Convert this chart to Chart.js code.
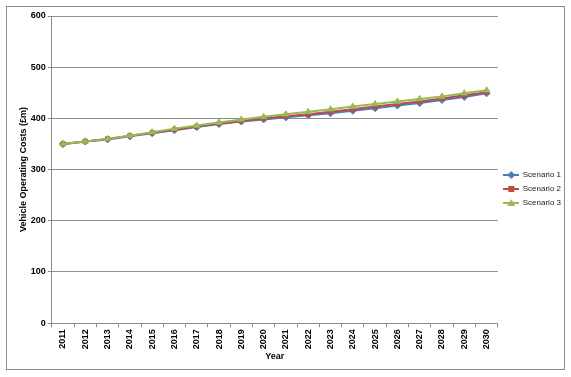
<!DOCTYPE html>
<html>
<head>
<meta charset="utf-8">
<script src="https://cdn.jsdelivr.net/npm/chart.js@4"></script>
<style>
  html, body { margin: 0; padding: 0; background: #fff; }
</style>
</head>
<body>
<canvas id="vocChart" width="571" height="377"></canvas>
<script>
// Years on the x axis
const years = ["2011", "2012", "2013", "2014", "2015", "2016", "2017", "2018", "2019", "2020",
               "2021", "2022", "2023", "2024", "2025", "2026", "2027", "2028", "2029", "2030"];

// Vehicle operating costs (£m)
const scenario1 = [350, 355, 359, 365, 371, 377, 383, 389, 394, 398, 402, 406, 410, 415, 420, 425, 430, 436, 442, 449];
const scenario2 = [350, 355, 360, 366, 372, 378, 384, 390, 395, 400, 404, 408, 413, 418, 423, 428, 433, 439, 445, 451];
const scenario3 = [350, 355, 360, 366, 373, 380, 386, 392, 398, 403, 408, 413, 418, 423, 428, 433, 438, 443, 449, 455];

const yTicks = [0, 100, 200, 300, 400, 500, 600];

const FONT = "'Liberation Sans', Arial, sans-serif";

// little legend image: line with the marker in the middle
function legendIcon(color, style) {
  const c = document.createElement('canvas');
  c.width = 16; c.height = 8;
  const g = c.getContext('2d');
  g.strokeStyle = color;
  g.lineWidth = 2;
  g.beginPath(); g.moveTo(0, 4); g.lineTo(16, 4); g.stroke();
  g.fillStyle = color;
  g.beginPath();
  if (style === 'rect') {
    g.rect(5, 1, 6, 6);
  } else if (style === 'rectRot') {
    g.moveTo(8, 0); g.lineTo(12, 4); g.lineTo(8, 8); g.lineTo(4, 4); g.closePath();
  } else {
    g.moveTo(8, 0); g.lineTo(12, 7); g.lineTo(4, 7); g.closePath();
  }
  g.fill();
  return c;
}

const series = [
  { label: 'Scenario 1', data: scenario1, color: '#4A7EBB', marker: 'rectRot', order: 3 },
  { label: 'Scenario 2', data: scenario2, color: '#BE4B48', marker: 'rect', order: 2 },
  { label: 'Scenario 3', data: scenario3, color: '#98B954', marker: 'triangle', order: 1 }
];

// outer frame round the whole chart
const framePlugin = {
  id: 'frame',
  beforeDraw(chart) {
    const ctx = chart.ctx;
    ctx.save();
    ctx.fillStyle = '#fff';
    ctx.fillRect(0, 0, chart.width, chart.height);
    ctx.strokeStyle = '#8c8c8c';
    ctx.lineWidth = 1;
    ctx.strokeRect(6.5, 6.5, 558, 363);
    ctx.restore();
  }
};

const ctx = document.getElementById('vocChart').getContext('2d');

const vocChart = new Chart(ctx, {
  type: 'line',
  data: {
    labels: years,
    datasets: series.map(s => ({
      label: s.label,
      data: s.data,
      borderColor: s.color,
      backgroundColor: s.color,
      borderWidth: 2,
      pointStyle: s.marker,
      pointRadius: s.marker === 'rect' ? 3 : 3.5,
      pointBackgroundColor: s.color,
      pointBorderColor: s.color,
      pointBorderWidth: 1,
      fill: false,
      tension: 0,
      order: s.order
    }))
  },
  options: {
    responsive: false,
    maintainAspectRatio: false,
    animation: false,
    layout: { padding: { left: 12, right: 0, top: 16, bottom: 15 } },
    plugins: {
      tooltip: { enabled: false },
      legend: {
        position: 'right',
        align: 'center',
        labels: {
          usePointStyle: true,
          pointStyleWidth: 15,
          boxHeight: 8,
          padding: 6,
          color: '#1a1a1a',
          font: { family: FONT, size: 8 },
          generateLabels(chart) {
            return series.map((s, i) => ({
              text: s.label,
              pointStyle: legendIcon(s.color, s.marker),
              fillStyle: s.color,
              strokeStyle: s.color,
              lineWidth: 0,
              hidden: false,
              datasetIndex: i,
              fontColor: '#1a1a1a'
            }));
          }
        }
      }
    },
    scales: {
      x: {
        offset: true,
        grid: {
          offset: true,
          drawOnChartArea: false,
          color: '#8c8c8c',
          tickLength: 4
        },
        border: { color: '#8c8c8c' },
        ticks: {
          minRotation: 90,
          maxRotation: 90,
          autoSkip: false,
          padding: 2,
          color: '#000',
          font: { family: FONT, size: 9, weight: 'bold' }
        },
        title: {
          display: true,
          text: 'Year',
          color: '#000',
          padding: { top: 0, bottom: 0 },
          font: { family: FONT, size: 9, weight: 'bold' }
        }
      },
      y: {
        min: 0,
        max: 600,
        afterBuildTicks(axis) { axis.ticks = yTicks.map(v => ({ value: v })); },
        grid: {
          color: '#8c8c8c',
          tickLength: 4,
          drawTicks: true
        },
        border: { color: '#8c8c8c' },
        ticks: {
          padding: 2,
          color: '#000',
          font: { family: FONT, size: 9, weight: 'bold' }
        },
        title: {
          display: true,
          text: 'Vehicle Operating Costs (£m)',
          color: '#000',
          padding: { top: 6, bottom: 0 },
          font: { family: FONT, size: 9, weight: 'bold' }
        }
      }
    }
  },
  plugins: [framePlugin]
});
</script>
</body>
</html>
